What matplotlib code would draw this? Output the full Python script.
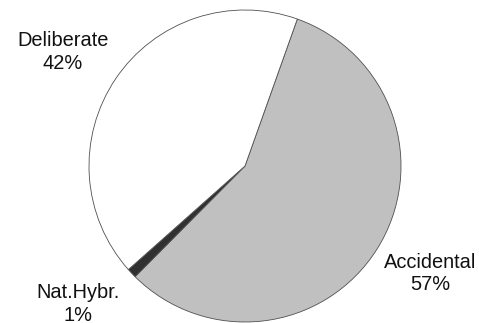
import matplotlib.pyplot as plt

plt.rcParams['font.family'] = ['Liberation Sans', 'DejaVu Sans']

# origen de las plantas
categorias = ["Accidental", "Nat.Hybr.", "Deliberate"]
porcentajes = [57, 1, 42]
colores = ["#c0c0c0", "#303030", "#ffffff"]

fig = plt.figure(figsize=(4.79, 3.23), dpi=100)
ax = fig.add_axes([0, 0, 1, 1])
ax.set_xlim(-1.5705, 1.5)
ax.set_ylim(-1.0064, 1.0641)
ax.set_aspect('equal')
ax.axis('off')

ax.pie(porcentajes, colors=colores, startangle=70.4, counterclock=False,
       radius=1, center=(0, 0), frame=True,
       wedgeprops=dict(edgecolor="#505050", linewidth=0.6))
ax.set_xlim(-1.5705, 1.5)
ax.set_ylim(-1.0064, 1.0641)
ax.axis('off')

posiciones = {"Accidental": (1.186, -0.689),
              "Nat.Hybr.": (-1.071, -0.885),
              "Deliberate": (-1.167, 0.731)}
for nombre, p in zip(categorias, porcentajes):
    x, y = posiciones[nombre]
    ax.text(x, y, f"{nombre}\n{p}%", ha='center', va='center',
            fontsize=14.4, linespacing=1.25, color="#111111")

fig.savefig("out.png", dpi=100)
